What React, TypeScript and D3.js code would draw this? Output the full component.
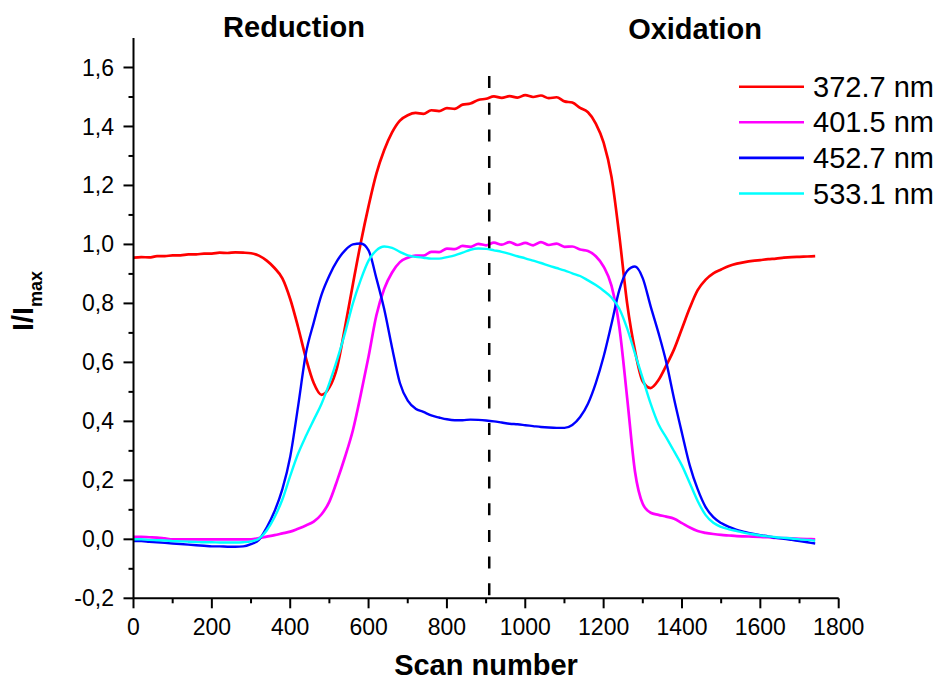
import React from "react";
import * as d3 from "d3";

const scans = [
  0, 20, 40, 60, 80, 100, 120, 140, 160, 180, 200, 220, 240, 260, 280, 300, 320, 340, 360, 380,
  400, 420, 440, 460, 480, 500, 520, 540, 560, 580, 600, 620, 640, 660, 680, 700, 720, 740, 760, 780,
  800, 820, 840, 860, 880, 900, 920, 940, 960, 980, 1000, 1020, 1040, 1060, 1080, 1100, 1120, 1140, 1160, 1180,
  1200, 1220, 1240, 1260, 1280, 1300, 1320, 1340, 1360, 1380, 1400, 1420, 1440, 1460, 1480, 1500, 1520, 1540, 1560, 1580,
  1600, 1620, 1640, 1660, 1680, 1700, 1720, 1740,
];

const red3727 = [
  0.955, 0.957, 0.956, 0.96, 0.96, 0.963, 0.963, 0.966, 0.966, 0.969, 0.969, 0.972, 0.971, 0.973, 0.972, 0.97, 0.962, 0.945, 0.92, 0.885,
  0.815, 0.72, 0.615, 0.53, 0.49, 0.515, 0.585, 0.72, 0.865, 1.005, 1.13, 1.24, 1.32, 1.38, 1.42, 1.438, 1.446, 1.443, 1.455, 1.452,
  1.462, 1.46, 1.474, 1.478, 1.49, 1.494, 1.502, 1.497, 1.503, 1.498, 1.506, 1.5, 1.505, 1.496, 1.499, 1.485, 1.481, 1.463, 1.448, 1.41,
  1.345, 1.23, 1.03, 0.8, 0.64, 0.535, 0.513, 0.54, 0.59, 0.645, 0.715, 0.785, 0.845, 0.88, 0.902, 0.915, 0.927, 0.935, 0.94, 0.944,
  0.947, 0.95, 0.952, 0.955, 0.957, 0.958, 0.959, 0.96,
];

const magenta4015 = [
  0.008, 0.008, 0.007, 0.006, 0.003, 0.0, 0.0, 0.0, 0.0, 0.0, 0.0, 0.0, 0.0, 0.0, 0.0, 0.0, 0.004, 0.009, 0.014, 0.02,
  0.026, 0.036, 0.047, 0.06, 0.085, 0.128, 0.2, 0.28, 0.37, 0.49, 0.62, 0.76, 0.85, 0.905, 0.94, 0.955, 0.962, 0.962, 0.975, 0.974,
  0.986, 0.984, 0.995, 0.992, 1.002, 0.997, 1.006, 0.999, 1.008, 0.998, 1.005, 0.997, 1.008, 0.998, 1.003, 0.992, 0.993, 0.983, 0.978, 0.96,
  0.925, 0.86, 0.72, 0.48, 0.23, 0.12, 0.09, 0.083, 0.077, 0.07, 0.055, 0.04, 0.028, 0.022, 0.018, 0.015, 0.013, 0.011, 0.01, 0.009,
  0.008, 0.007, 0.005, 0.004, 0.003, 0.002, 0.001, 0.0,
];

const blue4527 = [
  -0.006, -0.006, -0.008, -0.01, -0.012, -0.014, -0.016, -0.018, -0.02, -0.022, -0.024, -0.024, -0.025, -0.025, -0.024, -0.016, -0.002, 0.04, 0.095, 0.17,
  0.28, 0.45, 0.63, 0.735, 0.83, 0.895, 0.945, 0.98, 1.0, 1.003, 0.98, 0.885, 0.78, 0.65, 0.53, 0.47, 0.443, 0.432, 0.42, 0.413,
  0.407, 0.404, 0.404, 0.406, 0.405, 0.403, 0.4, 0.396, 0.392, 0.39, 0.387, 0.384, 0.381, 0.379, 0.378, 0.378, 0.388, 0.415, 0.46, 0.53,
  0.62, 0.73, 0.845, 0.91, 0.925, 0.885, 0.79, 0.7, 0.6, 0.475, 0.36, 0.25, 0.17, 0.11, 0.075, 0.055, 0.042, 0.032, 0.025, 0.019,
  0.014, 0.01, 0.005, 0.002, -0.002, -0.006, -0.01, -0.014,
];

const cyan5331 = [
  0.0, 0.0, -0.002, -0.003, -0.004, -0.006, -0.007, -0.008, -0.009, -0.01, -0.01, -0.011, -0.011, -0.011, -0.01, -0.007, 0.002, 0.03, 0.075, 0.135,
  0.215, 0.29, 0.35, 0.405, 0.46, 0.53, 0.61, 0.7, 0.8, 0.88, 0.945, 0.98, 0.993, 0.988, 0.975, 0.963, 0.958, 0.955, 0.952, 0.952,
  0.957, 0.963, 0.972, 0.982, 0.986, 0.985, 0.98, 0.975, 0.968, 0.96, 0.953, 0.945, 0.937, 0.928, 0.92, 0.912, 0.902, 0.893, 0.878, 0.862,
  0.843, 0.82, 0.782, 0.715, 0.63, 0.545, 0.46, 0.39, 0.345, 0.298, 0.25, 0.19, 0.13, 0.083, 0.056, 0.042, 0.034, 0.028, 0.022, 0.017,
  0.013, 0.01, 0.007, 0.005, 0.003, 0.0, -0.002, -0.005,
];

const seriesNames = ["372.7 nm", "401.5 nm", "452.7 nm", "533.1 nm"];
const seriesColors = ["#ff0000", "#ff00ff", "#0000ff", "#00ffff"];
const seriesValues = [red3727, magenta4015, blue4527, cyan5331];

const xMajorTicks = [0, 200, 400, 600, 800, 1000, 1200, 1400, 1600, 1800];
const xMinorTicks = [100, 300, 500, 700, 900, 1100, 1300, 1500, 1700];
const yMajorTicks = [-0.2, 0.0, 0.2, 0.4, 0.6, 0.8, 1.0, 1.2, 1.4, 1.6];
const yMinorTicks = [-0.1, 0.1, 0.3, 0.5, 0.7, 0.9, 1.1, 1.3, 1.5];
const switchScan = 908;

const FONT = "'Liberation Sans', Arial, Helvetica, sans-serif";

export default function App() {
  const W = 939;
  const H = 682;
  const x = d3.scaleLinear().domain([0, 1800]).range([133.5, 838.7]);
  const y = d3.scaleLinear().domain([-0.2, 1.7]).range([598.3, 38]);
  const yAxisBottom = y(-0.2);

  const line = d3
    .line<number>()
    .x((_, i) => x(scans[i]))
    .y((d) => y(d))
    .curve(d3.curveMonotoneX);

  const fmtY = (v: number) => d3.format(".1f")(v).replace(".", ",").replace("−", "-");

  return (
    <svg
      width={W}
      height={H}
      viewBox={`0 0 ${W} ${H}`}
      style={{ position: "absolute", left: 0, top: 0, background: "#fff" }}
      fontFamily={FONT}
    >
      <rect x={0} y={0} width={W} height={H} fill="#fff" />

      {seriesValues.map((vals, k) => (
        <path
          key={seriesNames[k]}
          d={line(vals) || ""}
          fill="none"
          stroke={seriesColors[k]}
          strokeWidth={k < 2 ? 2.7 : 2.4}
          strokeLinejoin="round"
        />
      ))}

      <line
        x1={x(switchScan)}
        x2={x(switchScan)}
        y1={76}
        y2={yAxisBottom - 3}
        stroke="#000"
        strokeWidth={2.5}
        strokeDasharray="12,14.7"
      />

      <line x1={x(0)} x2={x(1800)} y1={yAxisBottom} y2={yAxisBottom} stroke="#000" strokeWidth={2} />
      <line x1={x(0)} x2={x(0)} y1={y(1.7)} y2={yAxisBottom} stroke="#000" strokeWidth={2} />

      {xMajorTicks.map((t) => (
        <g key={"xM" + t}>
          <line x1={x(t)} x2={x(t)} y1={yAxisBottom} y2={yAxisBottom + 10} stroke="#000" strokeWidth={2} />
          <text x={x(t)} y={635} textAnchor="middle" fontSize={23} fill="#000">
            {t}
          </text>
        </g>
      ))}
      {xMinorTicks.map((t) => (
        <line key={"xm" + t} x1={x(t)} x2={x(t)} y1={yAxisBottom} y2={yAxisBottom + 5} stroke="#000" strokeWidth={2} />
      ))}

      {yMajorTicks.map((t) => (
        <g key={"yM" + t}>
          <line x1={x(0) - 10} x2={x(0)} y1={y(t)} y2={y(t)} stroke="#000" strokeWidth={2} />
          <text x={114} y={y(t)} dy="0.35em" textAnchor="end" fontSize={23} fill="#000">
            {fmtY(t)}
          </text>
        </g>
      ))}
      {yMinorTicks.map((t) => (
        <line key={"ym" + t} x1={x(0) - 5} x2={x(0)} y1={y(t)} y2={y(t)} stroke="#000" strokeWidth={2} />
      ))}

      <text x={294} y={37} textAnchor="middle" fontSize={29} fontWeight="bold" fill="#000">
        Reduction
      </text>
      <text x={695} y={39} textAnchor="middle" fontSize={29} fontWeight="bold" fill="#000">
        Oxidation
      </text>

      <text x={486} y={675} textAnchor="middle" fontSize={29} fontWeight="bold" fill="#000">
        Scan number
      </text>
      <g transform="translate(33,301) rotate(-90)">
        <text x={0} y={0} textAnchor="middle" fontSize={29} fontWeight="bold" fill="#000">
          I/I
          <tspan fontSize={18} dy={9}>
            max
          </tspan>
        </text>
      </g>

      {seriesNames.map((name, k) => {
        const ly = 86.7 + k * 35.6;
        return (
          <g key={"lg" + name}>
            <line x1={739} x2={804} y1={ly} y2={ly} stroke={seriesColors[k]} strokeWidth={2.6} />
            <text x={813} y={ly + 10} fontSize={29} fill="#000">
              {name}
            </text>
          </g>
        );
      })}
    </svg>
  );
}
